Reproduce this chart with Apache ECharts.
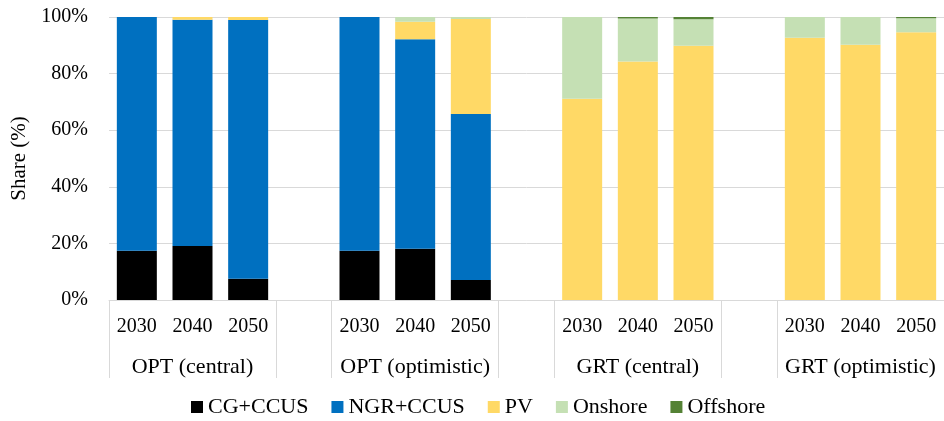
<!DOCTYPE html>
<html>
<head>
<meta charset="utf-8">
<script src="https://cdn.jsdelivr.net/npm/echarts@6/dist/echarts.min.js"></script>
<style>
  html, body { margin: 0; padding: 0; background: #fff; }
  #chart { width: 944px; height: 421px; }
</style>
</head>
<body>
<div id="chart"></div>
<script>
  // 15 slots: 4 scenarios x 3 years, with an empty slot between scenarios
  const years = ['2030', '2040', '2050', '', '2030', '2040', '2050', '', '2030', '2040', '2050', '', '2030', '2040', '2050']
  const groups = ['OPT (central)', 'OPT (optimistic)', 'GRT (central)', 'GRT (optimistic)']
  const yTicks = [0, 20, 40, 60, 80, 100]

  const cgCcus   = [17.4, 19.1, 7.5, null, 17.4, 18.1, 7.1, null, 0, 0, 0, null, 0, 0, 0]
  const ngrCcus  = [82.6, 79.9, 91.4, null, 82.6, 74.0, 58.6, null, 0, 0, 0, null, 0, 0, 0]
  const pv       = [0, 1.0, 1.1, null, 0, 6.2, 33.6, null, 71.1, 84.3, 89.8, null, 92.7, 90.2, 94.6]
  const onshore  = [0, 0, 0, null, 0, 1.7, 0.7, null, 28.9, 15.2, 9.4, null, 7.3, 9.8, 5.0]
  const offshore = [0, 0, 0, null, 0, 0, 0, null, 0, 0.5, 0.8, null, 0, 0, 0.4]

  const seriesNames = ['CG+CCUS', 'NGR+CCUS', 'PV', 'Onshore', 'Offshore']
  const seriesData = [cgCcus, ngrCcus, pv, onshore, offshore]
  const colors = ['#000000', '#0070C0', '#FFD966', '#C5E0B4', '#548235']

  // group label sits under the middle year of each scenario
  const groupLabels = years.map((y, i) => (i % 4 === 1 ? groups[(i - 1) / 4] : ''))
  const tickAt = [0, 3, 4, 7, 8, 11, 12]

  const font = 'Liberation Serif'
  const chart = echarts.init(document.getElementById('chart'))

  let series = []
  for (let i = 0; i < seriesNames.length; i++) {
    series.push({
      name: seriesNames[i],
      type: 'bar',
      stack: 'total',
      barWidth: 40,
      itemStyle: { color: colors[i] },
      data: seriesData[i]
    })
  }

  chart.setOption({
    animation: false,
    color: colors,
    textStyle: { fontFamily: font },
    grid: { left: 109, right: 0, top: 17, bottom: 121 },
    legend: {
      data: seriesNames,
      top: 396,
      left: 191,
      padding: 0,
      icon: 'rect',
      itemWidth: 12,
      itemHeight: 12,
      itemGap: 23,
      textStyle: { fontFamily: font, fontSize: 22, color: '#000' }
    },
    xAxis: [{
      type: 'category',
      data: years,
      axisLine: { lineStyle: { color: '#d9d9d9' } },
      axisTick: {
        show: true,
        length: 78,
        interval: (index) => tickAt.indexOf(index) >= 0,
        lineStyle: { color: '#d9d9d9' }
      },
      axisLabel: { interval: 0, margin: 17, fontFamily: font, fontSize: 20, color: '#000' }
    }, {
      type: 'category',
      position: 'bottom',
      offset: 40,
      data: groupLabels,
      axisLine: { show: false },
      axisTick: { show: false },
      axisLabel: { interval: 0, margin: 16, fontFamily: font, fontSize: 22, color: '#000' }
    }],
    yAxis: {
      type: 'value',
      min: yTicks[0],
      max: yTicks[yTicks.length - 1],
      interval: 20,
      name: 'Share (%)',
      nameLocation: 'middle',
      nameGap: 71,
      nameTextStyle: { fontFamily: font, fontSize: 21, color: '#000' },
      axisLine: { show: false },
      axisTick: { show: false },
      axisLabel: { formatter: '{value}%', margin: 21, fontFamily: font, fontSize: 20, color: '#000' },
      splitLine: { lineStyle: { color: '#d9d9d9' } }
    },
    series: series
  })
</script>
</body>
</html>
